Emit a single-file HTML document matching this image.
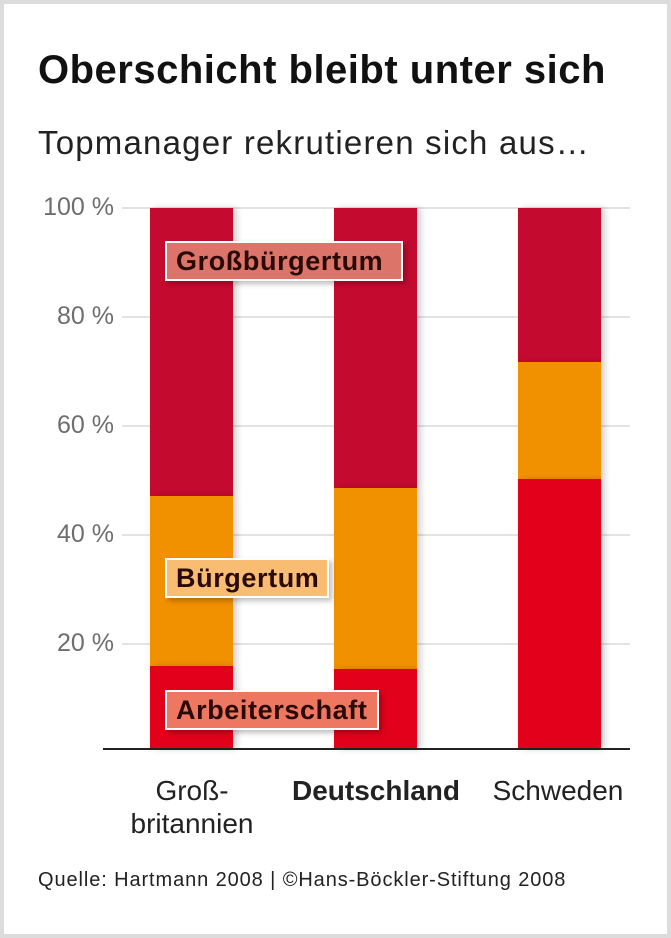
<!DOCTYPE html>
<html><head><meta charset="utf-8"><style>
body{margin:0;width:671px;height:938px;background:#fff;position:relative;overflow:hidden;font-family:"Liberation Sans",sans-serif}
.f{position:absolute;left:0;top:0;width:663px;height:930px;border:4px solid #dcdcdc}
.a{position:absolute;white-space:nowrap}
.g{position:absolute;left:122px;width:508px;height:2px;background:#e3e3e3}
.y{position:absolute;left:30px;width:84px;text-align:right;font-size:25px;color:#6e6e6e}
.b{position:absolute;width:83px;box-shadow:4px 0 6px rgba(0,0,0,.18)}
.l{position:absolute;height:36px;border:2px solid #fff;font-weight:bold;font-size:27px;letter-spacing:0.6px;color:#2a0a06;line-height:36px;padding-left:9px;box-sizing:content-box;box-shadow:3px 3px 5px rgba(0,0,0,.25);white-space:nowrap}
.x{position:absolute;font-size:28px;color:#222;text-align:center;line-height:33px}
</style></head><body>
<div class="f"></div>
<div class="a" style="left:38px;top:48px;font-size:40px;letter-spacing:0.5px;font-weight:bold;color:#111">Oberschicht bleibt unter sich</div>
<div class="a" style="left:38px;top:124px;font-size:33px;letter-spacing:1.2px;color:#222">Topmanager rekrutieren sich aus…</div>
<div class="g" style="top:207px"></div><div class="g" style="top:316px"></div><div class="g" style="top:425px"></div><div class="g" style="top:534px"></div><div class="g" style="top:643px"></div>
<div class="y" style="top:193px">100 %</div><div class="y" style="top:302px">80 %</div><div class="y" style="top:411px">60 %</div><div class="y" style="top:520px">40 %</div><div class="y" style="top:629px">20 %</div>
<div class="b" style="left:150px;top:208px;height:288px;background:#c50a30"></div>
<div class="b" style="left:150px;top:496px;height:170px;background:#f29100"></div>
<div class="b" style="left:150px;top:666px;height:83px;background:#e2001a"></div>
<div class="b" style="left:334px;top:208px;height:280px;background:#c50a30"></div>
<div class="b" style="left:334px;top:488px;height:181px;background:#f29100"></div>
<div class="b" style="left:334px;top:669px;height:80px;background:#e2001a"></div>
<div class="b" style="left:518px;top:208px;height:154px;background:#c50a30"></div>
<div class="b" style="left:518px;top:362px;height:117px;background:#f29100"></div>
<div class="b" style="left:518px;top:479px;height:270px;background:#e2001a"></div>
<div class="a" style="left:103px;top:748px;width:527px;height:2px;background:#222"></div>
<div class="l" style="left:165px;top:241px;width:225px;background:#dc7469">Großbürgertum</div>
<div class="l" style="left:165px;top:558px;width:151px;background:#f8bd72">Bürgertum</div>
<div class="l" style="left:165px;top:690px;width:201px;background:#ee7761">Arbeiterschaft</div>
<div class="x" style="left:130px;top:774px;width:124px">Groß-<br>britannien</div>
<div class="x" style="left:270px;top:774px;width:212px;font-weight:bold">Deutschland</div>
<div class="x" style="left:470px;top:774px;width:176px">Schweden</div>
<div class="a" style="left:38px;top:869px;font-size:20px;letter-spacing:0.9px;color:#222">Quelle: Hartmann 2008 | ©Hans-Böckler-Stiftung 2008</div>
</body></html>
